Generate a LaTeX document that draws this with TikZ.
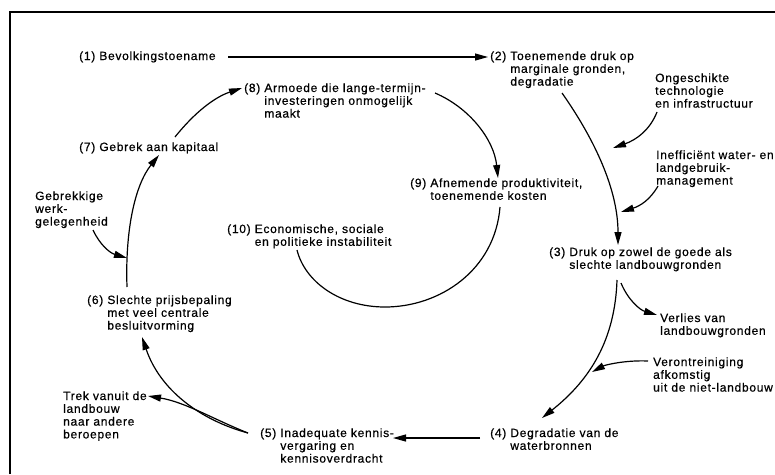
\documentclass[tikz,border=0pt]{standalone}
\usepackage{fontspec}
\setmainfont{Liberation Sans}[LetterSpace=6,FakeBold=0.6]
\usetikzlibrary{arrows.meta}
\newcommand\labfont{\fontsize{12}{12.8}\selectfont}
\newcommand\hng[2]{#1\ \begin{tabular}[t]{@{}l@{}}#2\end{tabular}}
\newcommand\stk[1]{\begin{tabular}[t]{@{}l@{}}#1\end{tabular}}
\begin{document}
\begin{tikzpicture}[x=1pt,y=-1pt,
  lbl/.style={anchor=base west,inner sep=0pt,font=\labfont},
  conn/.style={line width=1.2pt,-{Triangle[length=13pt,width=7pt]}},
  plainline/.style={line width=1.2pt}]
\useasboundingbox (0,0) rectangle (775,474);
\draw[line width=1.4pt] (10,474) -- (10,12) -- (775,12);

% labels
\node[lbl] (n1) at (79,60) {(1) Bevolkingstoename};
\node[lbl] (n2) at (490,60) {\hng{(2)}{Toenemende druk op\\marginale gronden,\\degradatie}};
\node[lbl] (n8) at (244,92) {\hng{(8)}{Armoede die lange-termijn-\\investeringen onmogelijk\\maakt}};
\node[lbl] (n7) at (79,151) {(7) Gebrek aan kapitaal};
\node[lbl] (nong) at (655,82) {\stk{Ongeschikte\\technologie\\en infrastructuur}};
\node[lbl] (nineff) at (656,159) {\stk{Inefficiënt water- en\\landgebruik-\\management}};
\node[lbl] (ngeb) at (35,200) {\stk{Gebrekkige\\werk-\\gelegenheid}};
\node[lbl] (n10) at (227,233) {\hng{(10)}{Economische, sociale\\en politieke instabiliteit}};
\node[lbl] (n9) at (410,187) {\hng{(9)}{Afnemende produktiviteit,\\toenemende kosten}};
\node[lbl] (n3) at (549,256) {\hng{(3)}{Druk op zowel de goede als\\slechte landbouwgronden}};
\node[lbl] (n6) at (87,304) {\hng{(6)}{Slechte prijsbepaling\\met veel centrale\\besluitvorming}};
\node[lbl] (nverl) at (660,322) {\stk{Verlies van\\landbouwgronden}};
\node[lbl] (nvero) at (653,366) {\stk{Verontreiniging\\afkomstig\\uit de niet-landbouw}};
\node[lbl] (ntrek) at (63,400) {\stk{Trek vanuit de\\landbouw\\naar andere\\beroepen}};
\node[lbl] (n4) at (490,437) {\hng{(4)}{Degradatie van de\\waterbronnen}};
\node[lbl] (n5) at (260,437) {\hng{(5)}{Inadequate kennis-\\vergaring en\\kennisoverdracht}};

% connector end points
\coordinate (a1) at (228,57);
\coordinate (b2) at (488,57);
\coordinate (a7) at (175,137);
\coordinate (b8) at (242,88);
\coordinate (a8) at (435,93);
\coordinate (b9) at (498,178);
\coordinate (a9) at (500,207);
\coordinate (b10) at (297,250);
\coordinate (a2) at (562,93);
\coordinate (b3) at (618,245);
\coordinate (aong) at (657,112);
\coordinate (bong) at (613,148);
\coordinate (aineff) at (658,186);
\coordinate (bineff) at (621,212);
\coordinate (a3) at (617,280);
\coordinate (b4) at (542,418);
\coordinate (a3v) at (621,283);
\coordinate (bverl) at (657,315);
\coordinate (avero) at (648,361);
\coordinate (bvero) at (592,372);
\coordinate (a4) at (480,438);
\coordinate (b5) at (393,438);
\coordinate (a5) at (248,433);
\coordinate (b6) at (142,337);
\coordinate (btrek) at (148,396);
\coordinate (a6) at (127,287);
\coordinate (b7) at (159,155);
\coordinate (ageb) at (93,230);
\coordinate (bgeb) at (127,258);

% connectors
\draw[conn] (a1) -- (b2);
\draw[conn] (a7) .. controls (195,112) and (215,97) .. (b8);
\draw[conn] (a8) .. controls (470,108) and (494,140) .. (b9);
\draw[plainline] (a9) .. controls (495,270) and (440,307) .. (385,307)
                 .. controls (340,307) and (305,282) .. (b10);
\draw[conn] (a2) .. controls (595,140) and (618,190) .. (b3);
\draw[conn] (aong) .. controls (650,130) and (636,140) .. (bong);
\draw[conn] (aineff) .. controls (650,200) and (640,206) .. (bineff);
\draw[conn] (a3) .. controls (615,340) and (590,380) .. (b4);
\draw[conn] (a3v) .. controls (628,300) and (640,310) .. (bverl);
\draw[conn] (avero) .. controls (625,360) and (605,365) .. (bvero);
\draw[conn] (a4) -- (b5);
\draw[conn] (a5) .. controls (200,420) and (160,390) .. (b6);
\draw[conn] (a5) .. controls (215,420) and (185,402) .. (btrek);
\draw[conn] (a6) .. controls (125,230) and (135,185) .. (b7);
\draw[conn] (ageb) .. controls (100,245) and (110,253) .. (bgeb);
\end{tikzpicture}
\end{document}
